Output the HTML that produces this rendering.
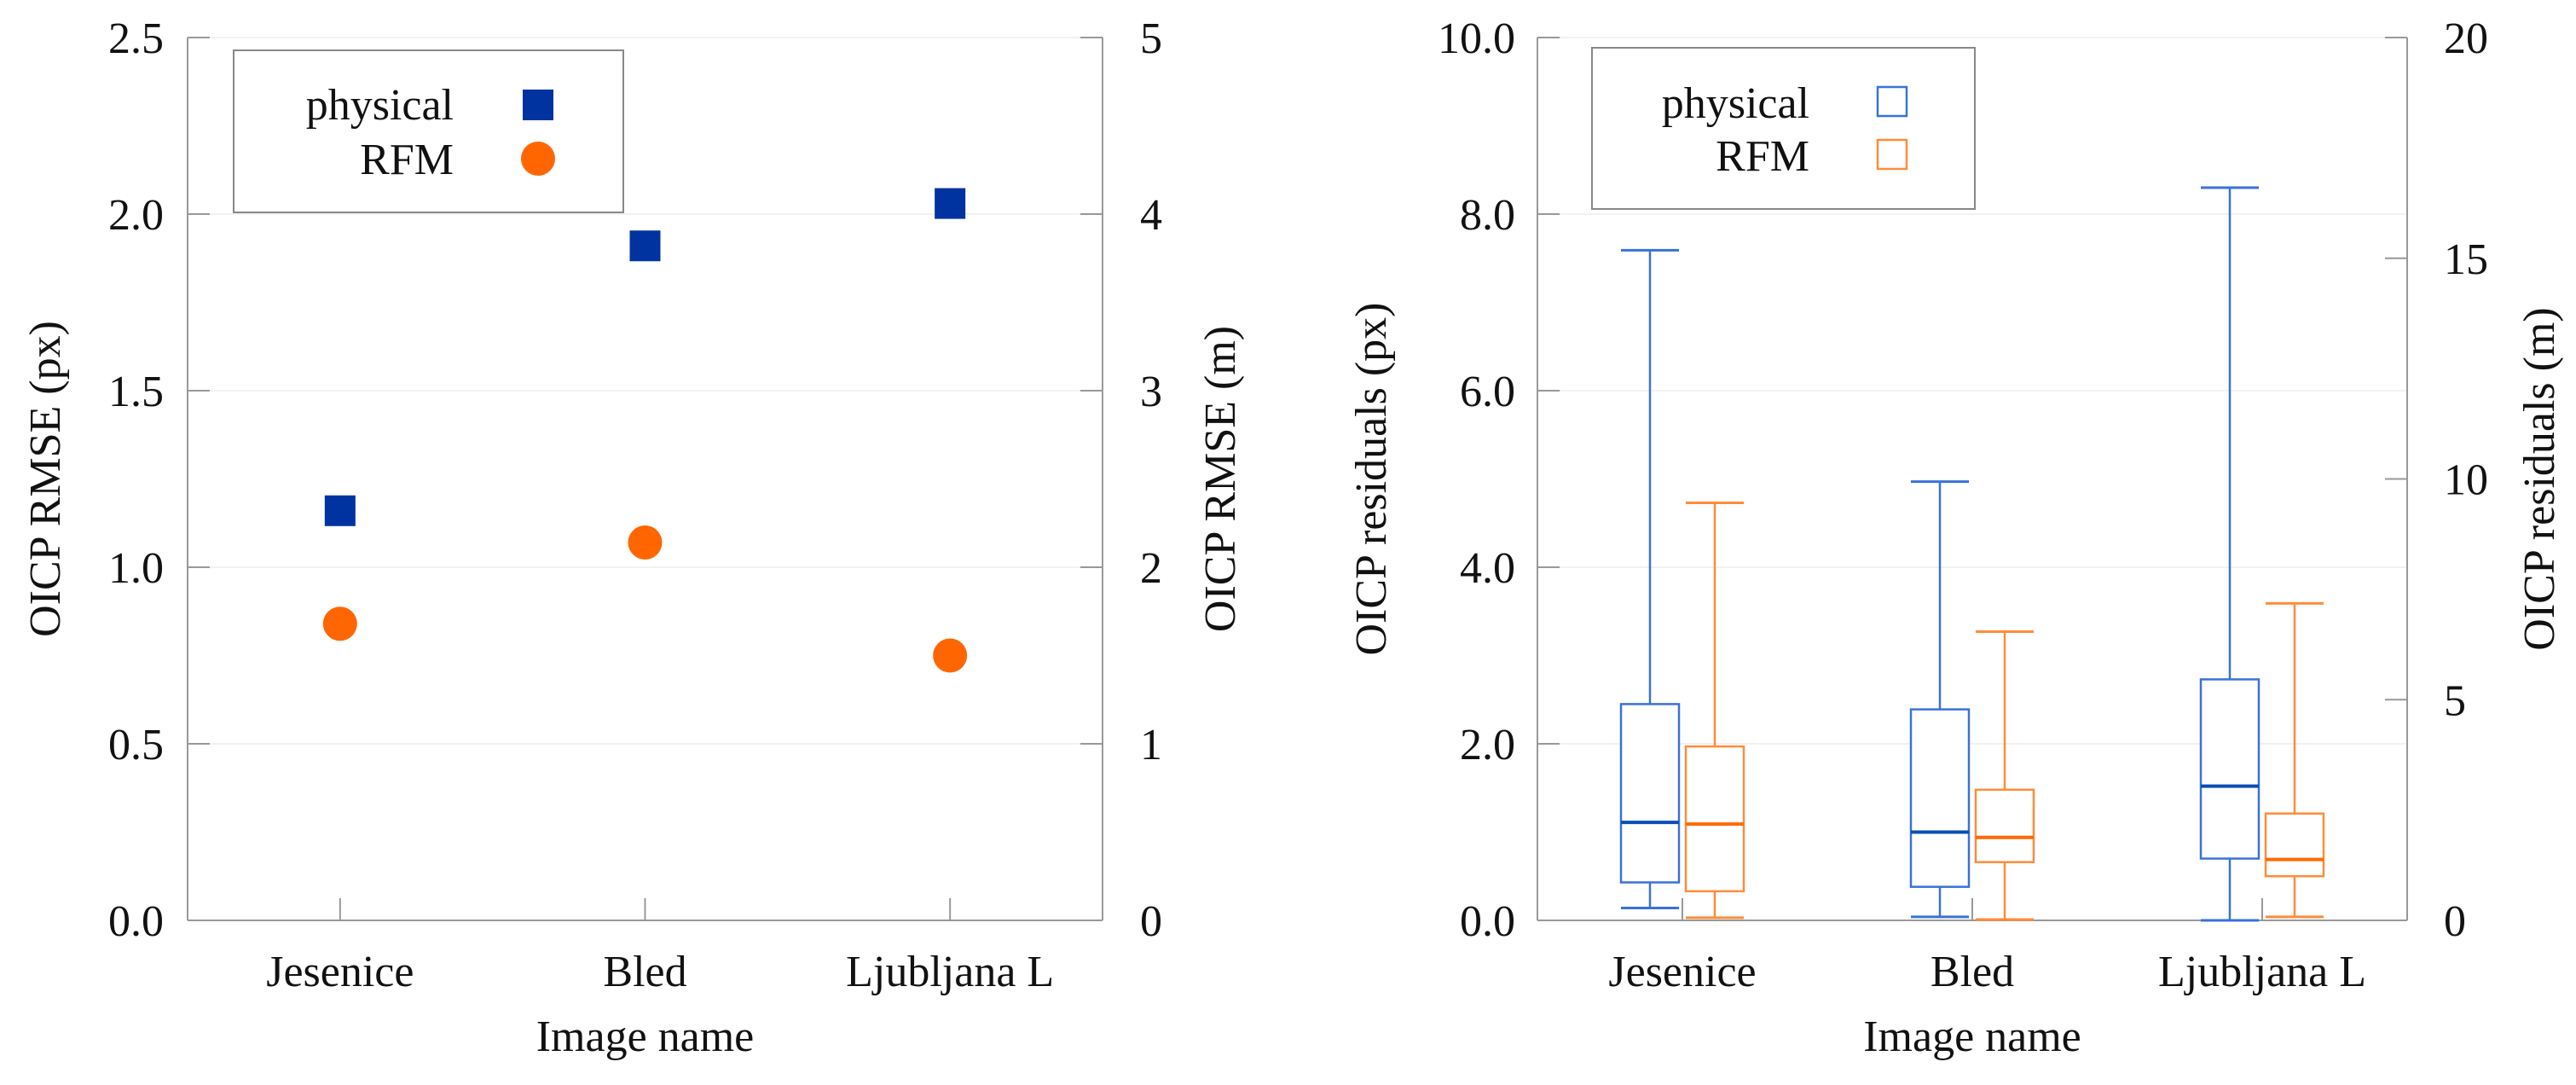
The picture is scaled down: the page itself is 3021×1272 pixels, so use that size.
<!DOCTYPE html>
<html><head><meta charset="utf-8"><style>
html,body{margin:0;padding:0;background:#fff}
svg{display:block}
text{font-family:"Liberation Serif",serif;fill:#111}
</style></head><body>
<svg id="c" width="3021" height="1272" viewBox="0 0 3021 1272" xmlns="http://www.w3.org/2000/svg"></svg>
<script>
const categories=["Jesenice","Bled","Ljubljana L"];
const rmsePhysical=[1.16,1.91,2.03];
const rmseRFM=[0.84,1.07,0.75];
const leftTicks=["0.0","0.5","1.0","1.5","2.0","2.5"];
const leftTicksR=["0","1","2","3","4","5"];
const physMax=[7.59,4.97,8.3], physQ3=[2.45,2.39,2.73], physMed=[1.11,1.0,1.52], physQ1=[0.43,0.38,0.7], physMin=[0.14,0.04,0.0];
const rfmMax=[4.73,3.27,3.59], rfmQ3=[1.97,1.48,1.21], rfmMed=[1.09,0.94,0.69], rfmQ1=[0.33,0.66,0.5], rfmMin=[0.03,0.01,0.04];
const rightTicks=["0.0","2.0","4.0","6.0","8.0","10.0"];
const rightTicksR=["0","5","10","15","20"];

const svg=document.getElementById('c');
const NS="http://www.w3.org/2000/svg";
function mk(tag,attrs,name,txt){const e=document.createElementNS(NS,tag);for(const k in attrs)e.setAttribute(k,attrs[k]);


if(txt!==undefined)e.textContent=txt;svg.appendChild(e);return e;}
const Y0=1079,Y1=44;
function panel(L,R,maxV,ticks,ticksR,maxR,titleL,titleR,lblRight,rLblX,titleLX,titleRX,pre){
  const y=v=>Y0-(v/maxV)*(Y0-Y1);
  const yr=v=>Y0-(v/maxR)*(Y0-Y1);
  ticks.forEach((t,i)=>{const v=parseFloat(t),yy=y(v);
    if(v>0)mk('line',{x1:L,x2:R,y1:yy,y2:yy,stroke:'#f2f2f2','stroke-width':2},pre+'gridline');
    mk('line',{x1:L,x2:L+26,y1:yy,y2:yy,stroke:'#999','stroke-width':2},pre+'y-tick');
    mk('text',{x:lblRight,y:yy+18,'font-size':52,'text-anchor':'end'},pre+'y-tick-label',t);});
  ticksR.forEach(t=>{const yy=yr(parseFloat(t));
    mk('line',{x1:R-26,x2:R,y1:yy,y2:yy,stroke:'#999','stroke-width':2},pre+'y2-tick');
    mk('text',{x:rLblX,y:yy+18,'font-size':52},pre+'y2-tick-label',t);});
  mk('line',{x1:L,x2:L,y1:Y1,y2:Y0,stroke:'#999','stroke-width':2},pre+'y-axis');
  mk('line',{x1:R,x2:R,y1:Y1,y2:Y0,stroke:'#999','stroke-width':2},pre+'y2-axis');
  mk('line',{x1:L,x2:R,y1:Y0,y2:Y0,stroke:'#999','stroke-width':2},pre+'x-axis');
  const xs=i=>L+(R-L)*(2*i+1)/6;
  categories.forEach((c,i)=>{
    mk('line',{x1:xs(i),x2:xs(i),y1:Y0-26,y2:Y0,stroke:'#999','stroke-width':2},pre+'x-tick');
    mk('text',{x:xs(i),y:1156,'font-size':52,'text-anchor':'middle'},pre+'x-tick-label',c);});
  mk('text',{x:(L+R)/2,y:1232,'font-size':52,'text-anchor':'middle'},pre+'x-axis-title','Image name');
  mk('text',{x:0,y:0,'font-size':52,'text-anchor':'middle',transform:`translate(${titleLX},${(Y0+Y1)/2}) rotate(-90)`},pre+'y-axis-title',titleL);
  mk('text',{x:0,y:0,'font-size':52,'text-anchor':'middle',transform:`translate(${titleRX},${(Y0+Y1)/2}) rotate(-90)`},pre+'y2-axis-title',titleR);
  return {y,xs};
}
// left panel
const A=panel(220,1293,2.5,leftTicks,leftTicksR,5,'OICP RMSE (px)','OICP RMSE (m)',192,1337,70,1448,'rmse-');
categories.forEach((c,i)=>{
  const x=A.xs(i);
  mk('rect',{x:x-18,y:A.y(rmsePhysical[i])-18,width:36,height:36,fill:'#0033a0'},'physical-point');
  mk('circle',{cx:x,cy:A.y(rmseRFM[i]),r:20,fill:'#ff6600'},'rfm-point');
});
mk('rect',{x:274,y:59,width:457,height:190,fill:'#fff',stroke:'#888','stroke-width':2},'rmse-legend');
mk('text',{x:532,y:140,'font-size':52,'text-anchor':'end'},'legend-physical-label','physical');
mk('text',{x:532,y:204,'font-size':52,'text-anchor':'end'},'legend-rfm-label','RFM');
mk('rect',{x:613,y:105,width:36,height:36,fill:'#0033a0'},'legend-physical-marker');
mk('circle',{cx:631,cy:186,r:20,fill:'#ff6600'},'legend-rfm-marker');
// right panel
const B=panel(1803,2823,10,rightTicks,rightTicksR,20,'OICP residuals (px)','OICP residuals (m)',1777,2866,1625,2995,'resid-');
function box(x,mx,q3,md,q1,mn,col,mcol,name){
  const w=68,h=w/2,y=B.y;
  mk('line',{x1:x,x2:x,y1:y(mx),y2:y(q3),stroke:col,'stroke-width':2.5},name+'-whisker-upper');
  mk('line',{x1:x,x2:x,y1:y(q1),y2:y(mn),stroke:col,'stroke-width':2.5},name+'-whisker-lower');
  mk('line',{x1:x-h,x2:x+h,y1:y(mx),y2:y(mx),stroke:col,'stroke-width':3},name+'-cap-max');
  mk('line',{x1:x-h,x2:x+h,y1:y(mn),y2:y(mn),stroke:col,'stroke-width':3},name+'-cap-min');
  mk('rect',{x:x-h,y:y(q3),width:w,height:y(q1)-y(q3),fill:'#fff',stroke:col,'stroke-width':2.5},name+'-box');
  mk('line',{x1:x-h,x2:x+h,y1:y(md),y2:y(md),stroke:mcol,'stroke-width':4},name+'-median');
}
categories.forEach((c,i)=>{
  const x=B.xs(i);
  box(x-38,physMax[i],physQ3[i],physMed[i],physQ1[i],physMin[i],'#3a72d6','#0a4fb5','physical-'+i);
  box(x+38,rfmMax[i],rfmQ3[i],rfmMed[i],rfmQ1[i],rfmMin[i],'#ff8c3a','#ff6a00','rfm-'+i);
});
mk('rect',{x:1867,y:56,width:449,height:189,fill:'#fff',stroke:'#888','stroke-width':2},'resid-legend');
mk('text',{x:2122,y:138,'font-size':52,'text-anchor':'end'},'legend-physical-label','physical');
mk('text',{x:2122,y:200,'font-size':52,'text-anchor':'end'},'legend-rfm-label','RFM');
mk('rect',{x:2202,y:102,width:34,height:34,fill:'none',stroke:'#3a72d6','stroke-width':2.5},'legend-physical-box');
mk('rect',{x:2202,y:164,width:34,height:34,fill:'none',stroke:'#ff8c3a','stroke-width':2.5},'legend-rfm-box');
</script>
</body></html>
